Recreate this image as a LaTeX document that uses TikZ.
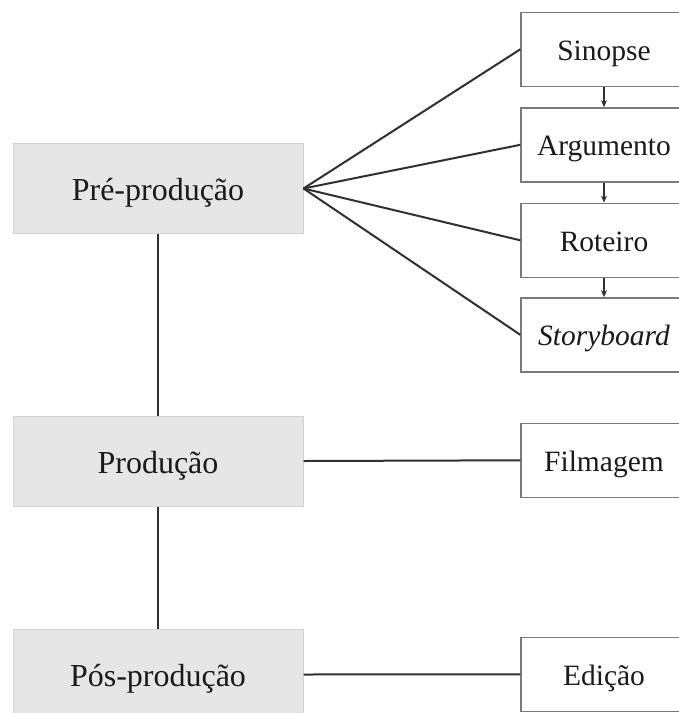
\documentclass[tikz,border=0pt]{standalone}
\usepackage{fontspec}
\setmainfont{Liberation Serif}
\usetikzlibrary{arrows.meta}

\definecolor{phasefill}{HTML}{E6E6E6}
\definecolor{phaseline}{HTML}{D2D2D2}
\definecolor{stepline}{HTML}{7A7A7A}
\definecolor{linkcol}{HTML}{303030}
\definecolor{labelcol}{HTML}{1A1A1A}

\tikzset{
  phase/.style={draw=phaseline, line width=1pt, fill=phasefill,
    minimum width=290pt, minimum height=90pt, inner sep=0pt,
    text height=24pt, text depth=0pt, text=labelcol,
    font=\fontsize{32}{36}\selectfont},
  stepbox/.style={draw=stepline, line width=1.4pt, fill=white,
    minimum width=166pt, minimum height=74pt, inner sep=0pt,
    text height=22pt, text depth=0pt, text=labelcol,
    font=\fontsize{29.5}{34}\selectfont},
  link/.style={draw=linkcol, line width=2pt},
  seq/.style={draw=linkcol, line width=1.2pt, -{Stealth[length=7pt,width=6pt]}}
}

\begin{document}
\begin{tikzpicture}[x=1pt, y=-1pt]
  \useasboundingbox (0,0) rectangle (679,713);
  \clip (0,0) rectangle (679,713);

  % production phases
  \node[phase] (pre)  at (158,188.5) {Pré-produção};
  \node[phase] (prod) at (158,461)   {Produção};
  \node[phase] (pos)  at (158,674.5) {Pós-produção};

  % tasks of each phase
  \node[stepbox] (sin) at (604,49.3)  {Sinopse};
  \node[stepbox] (arg) at (604,144.8) {Argumento};
  \node[stepbox] (rot) at (604,240.3) {Roteiro};
  \node[stepbox] (sto) at (604,334.8) {\itshape Storyboard};
  \node[stepbox] (fil) at (604,460.3) {Filmagem};
  \node[stepbox] (edi) at (604,674.3) {Edição};

  % phase chain
  \draw[link] (pre.south) -- (prod.north);
  \draw[link] (prod.south) -- (pos.north);

  % fan-out from pre-production
  \foreach \t in {sin,arg,rot,sto}
    \draw[link] (pre.east) -- (\t.west);

  \draw[link] (prod.east) -- (fil.west);
  \draw[link] (pos.east) -- (edi.west);

  % writing sequence
  \draw[seq] (sin.south) -- (arg.north);
  \draw[seq] (arg.south) -- (rot.north);
  \draw[seq] (rot.south) -- (sto.north);
\end{tikzpicture}
\end{document}
